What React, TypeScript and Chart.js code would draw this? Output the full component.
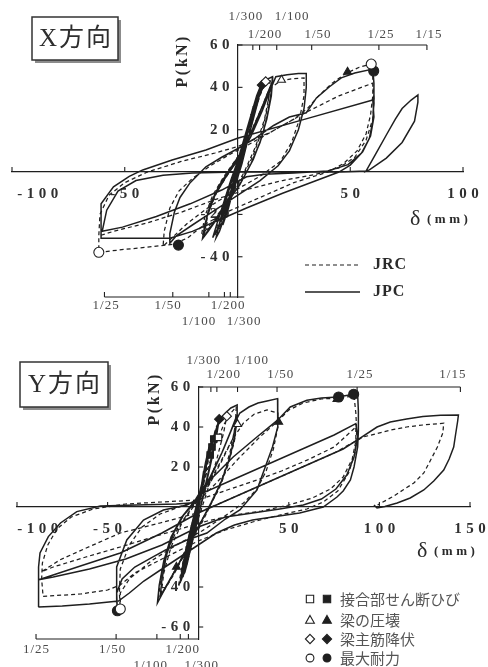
import React, { useEffect, useRef } from "react";
import { Chart, registerables } from "chart.js";

Chart.register(...registerables);

type Pt = [number, number];

// ================= X方向 =================
const X_JRC: Pt[] = [
  [0, 0], [2, 9], [4, 17], [2.5, 9], [0, 1], [-2, -7], [-4, -14], [-2.5, -7], [0, 1],
  [2.5, 11], [5, 21], [7.5, 31], [9.5, 38], [7.5, 28], [4, 13], [0, -1], [-4, -14], [-7, -23], [-10, -30], [-8, -21], [-4, -8], [0, 4],
  [3, 13], [6, 25], [8.5, 35], [6, 23], [2.5, 8], [-1.5, -7], [-5, -18], [-8, -27], [-6, -18], [-2.5, -5], [1, 6],
  [4, 17], [8, 30], [11, 39], [13, 43], [14.5, 44], [14, 36], [12, 25], [8, 12], [3, 0], [-3, -11], [-9, -21], [-13, -27], [-16, -30],
  [-14.5, -21], [-11, -11], [-6, -2], [0, 7], [6, 19], [11, 31], [14, 39],
  [13.5, 31], [11, 20], [7, 8], [2, -3], [-4, -13], [-10, -22], [-14.5, -28], [-13, -19], [-9, -9], [-3, 1], [3, 11], [9, 25], [15, 40], [19, 43], [24, 44], [29.5, 44.5],
  [29.5, 36], [27.5, 25], [24, 14], [19, 5], [10, -2], [0, -8], [-12, -16], [-22, -24], [-29, -31], [-33, -35],
  [-32.5, -28], [-30, -17], [-26, -9], [-20, -3], [-12, 3], [-4, 8], [5, 13], [15, 19], [25, 25], [31, 30], [36, 36], [42, 42], [48, 46.5], [54, 49.5], [59.3, 51],
  [60, 45], [60, 36], [59, 27], [57, 18], [53, 10], [47, 4], [40, 0], [25, -5], [10, -12], [-5, -19], [-15, -25], [-22, -31], [-28, -34], [-40, -35.5], [-50, -36.5], [-61.5, -37.9],
  [-61.5, -30], [-61, -20], [-57, -11], [-50, -5], [-40, 0], [-25, 5], [-10, 9], [0, 12], [15, 19], [30, 28], [45, 36], [60, 42],
  [60.5, 34], [60, 25], [57, 15], [52, 7], [45, 2], [35, -1], [20, -4], [5, -8], [-10, -13], [-25, -19], [-40, -24], [-55, -28], [-61, -30],
];
const X_JPC: Pt[] = [
  [0, 0], [1.5, 7], [3, 14], [2, 8], [0, 1], [-1.5, -6], [-3, -12], [-2, -7], [0, -1],
  [2, 9], [4, 18], [6, 27], [4.5, 19], [2, 7], [-1, -4], [-3.5, -13], [-6, -22], [-4.5, -15], [-2, -5], [1, 5],
  [3, 14], [5, 23], [7, 31], [4.5, 19], [1.5, 5], [-1.5, -7], [-4, -17], [-6.5, -25], [-4.5, -16], [-1.5, -3], [1.5, 8],
  [3.5, 15], [6, 25], [8.5, 35], [10.5, 41], [9, 33], [6, 21], [3, 9], [0, -1], [-3, -10], [-6, -19], [-9, -27], [-11, -31], [-9, -24], [-6, -14], [-3, -4], [0, 5],
  [3, 16], [6, 27], [8.5, 36], [10, 40], [8, 30], [5, 17], [2, 4], [-1.5, -8], [-5, -19], [-8, -28], [-9.5, -31], [-7.5, -22], [-4.5, -11], [-1, 1],
  [3, 14], [6, 24], [9, 34], [12, 42], [13.5, 44], [15.5, 45],
  [15, 38], [13.5, 28], [11, 17], [7, 6], [2, -4], [-4, -14], [-9, -22], [-13, -28], [-15.5, -31.5], [-14.5, -25], [-12, -15], [-8, -6], [-3, 2], [2, 10], [7, 21], [11, 31], [14, 39], [15.5, 43],
  [15, 36], [13, 25], [10, 14], [6, 4], [1, -6], [-5, -15], [-10, -23], [-14, -29], [-15, -30], [-13.5, -21], [-10, -11], [-5, -2], [1, 7], [6, 17], [11, 29], [15, 40], [17, 45], [22, 46], [27, 46.5], [30.5, 46.5],
  [30.5, 40], [29.5, 30], [27, 20], [23, 10], [18, 3], [10, -4], [0, -11], [-10, -18], [-20, -25], [-27, -30], [-30, -33.6],
  [-30, -29], [-28, -19], [-25.5, -12], [-21, -5], [-14, 2.5], [-7, 7], [0, 11], [8, 16], [16, 22], [23, 26], [30.5, 28], [35, 35], [40.8, 40.3], [46, 44.5], [52, 46.8], [60, 48.6],
  [60.5, 42], [60.5, 33], [60, 24], [58.5, 16], [55.5, 9.6], [50, 3.3], [45, 0], [35, -4], [20, -10], [4, -17], [-9, -23], [-20, -28], [-30, -31.3], [-45, -31.3], [-60.5, -31.3],
  [-60.5, -24], [-60.5, -15], [-55, -7], [-48, -2], [-42, 1], [-29, 5.7], [-14, 10.4], [0, 16], [30, 25], [60, 34],
  [60.5, 26], [59, 17], [55, 9], [49, 3.5], [40, 0.5], [25, -0.5], [12, -1], [4, -2.2], [-7, -8.5], [-21, -15], [-36, -21], [-51, -26], [-60, -28],
  [-58, -18], [-53, -9], [-45, -4], [-33, -1.5], [-20, -0.5], [0, 0], [25, 0], [45, 0], [57, 0.5],
  [61, 8], [66, 17.5], [70, 25], [73, 30], [77, 34], [80, 36.4],
  [80, 33], [78.5, 24], [73, 14], [66, 6.6], [58.5, 1], [56, 0],
];
const X_OPEN_DIAMOND: Pt[] = [[12.5, 42.8]];
const X_FILLED_DIAMOND: Pt[] = [[10.8, 41.1]];
const X_OPEN_TRIANGLE: Pt[] = [[19.5, 43.5]];
const X_FILLED_TRIANGLE: Pt[] = [[48.8, 47.3]];
const X_OPEN_CIRCLE: Pt[] = [[59.3, 51], [-61.5, -37.9]];
const X_FILLED_CIRCLE: Pt[] = [[60.4, 47.7], [-26.2, -34.5]];

const X_AXIS_X_TICKS = [-100, -50, 50, 100];
const X_AXIS_Y_TICKS = [60, 40, 20, -20, -40];
const X_DRIFT_TOP_LABELS = ["1/300", "1/200", "1/100", "1/50", "1/25", "1/15"];
const X_DRIFT_TOP_TICKS = [6.8, 9.8, 17.4, 32.9, 62.7, 84];
const X_DRIFT_TOP_LABEL_AT = [3.5, 12, 24, 35.5, 63.4, 84.7];
const X_DRIFT_TOP_ROW = [0, 1, 0, 1, 1, 1];
const X_DRIFT_BOT_LABELS = ["1/25", "1/50", "1/100", "1/200", "1/300"];
const X_DRIFT_BOT_TICKS = [-59, -28.7, -12.7, -5.8, -3.2];
const X_DRIFT_BOT_LABEL_AT = [-58.5, -31, -17.3, -4.4, 2.7];
const X_DRIFT_BOT_ROW = [0, 0, 1, 0, 1];

// ================= Y方向 =================
const Y_JRC: Pt[] = [
  [0, 0], [2, 11], [4, 21], [2.5, 12], [0, 1], [-2, -10], [-4, -19], [-2.5, -10], [0, 0],
  [2.5, 13], [5, 25], [7, 32], [5, 22], [2, 7], [-2, -10], [-5, -24], [-8, -34], [-6, -24], [-3, -10], [0, 2],
  [3, 15], [6, 28], [8.5, 36], [6, 25], [2.5, 9], [-1.5, -8], [-5, -23], [-8.5, -35], [-6.5, -25], [-3, -11], [0.5, 3],
  [3.5, 17], [7, 31], [10, 40], [13, 45], [15.8, 45.4], [14, 37], [10, 23], [5, 8], [0, -6], [-5, -22], [-9, -35], [-11, -40],
  [-9, -30], [-5.5, -16], [-1, 0], [4, 15], [9, 30], [14, 41], [18, 47], [21, 50],
  [20.5, 41], [18, 29], [14, 16], [9, 5], [2, -8], [-6, -21], [-13, -33], [-19, -42], [-22, -46],
  [-20.5, -35], [-17, -22], [-11, -10], [-4, -1], [4, 9], [12, 22], [19, 34], [21, 42],
  [20, 33], [16.5, 21], [11.5, 9], [5, -2], [-3, -14], [-10, -27], [-16, -37], [-20.5, -44], [-19, -33], [-15, -20], [-9, -8], [-2, 1], [6, 11], [13, 23], [19, 34], [25, 42], [31, 46.5], [38, 48.5], [44, 47],
  [44, 40], [41.5, 29], [37.5, 18], [32.5, 9], [25, 2], [14, -5], [2, -12], [-12, -19], [-26, -27], [-38, -36], [-43, -43], [-43, -51],
  [-43.5, -43], [-43, -31], [-38, -19], [-31, -10], [-21, -3.5], [-9, 0.5], [0, 3], [10, 12], [22, 24], [34, 35], [44, 43], [50, 48.5], [58, 52], [68, 54], [78, 54.5], [86, 55.5],
  [87, 47], [87.5, 38], [86.5, 27], [83, 17], [77, 8], [69, 2.5], [60, -1], [45, -4], [30, -7.5], [15, -11.5], [0, -17], [-20, -26], [-35, -33], [-43, -39], [-50, -41.5], [-65, -43.5], [-85.6, -44.7],
  [-86.4, -36], [-86, -28], [-83, -19], [-78, -11], [-70, -5], [-58, -1], [-40, 1.5], [-20, 2.5], [0, 3.5], [16, 8.5], [32.4, 13.5], [46, 18], [60, 23.4], [75, 30], [87, 40],
  [87, 33], [85, 24], [80, 15], [73, 9], [63, 4.5], [50, 1], [35, -2], [20, -4], [5, -7], [-10, -11], [-25, -15], [-43, -20], [-62, -25], [-80, -30], [-86.4, -32.3],
  [-76.2, -26.4], [-61.5, -20.4], [-43, -13], [-21, -8], [-0.7, -3], [15, 3], [35, 11], [55, 19], [75, 27], [91, 35],
  [106, 38.4], [115, 40], [124, 41], [135.5, 41.9],
  [135, 37], [132, 30], [128, 23], [124.5, 17], [119, 12], [113, 8.5], [108, 5.5], [104, 3.5], [99, 1],
];
const Y_JPC: Pt[] = [
  [0, 0], [1.5, 9], [3, 18], [2, 11], [0, 2], [-1.5, -8], [-3, -16], [-2, -9], [0, -1],
  [2, 12], [4, 22], [6, 30], [4.5, 21], [2, 8], [-1, -6], [-3.5, -18], [-6, -28], [-7.5, -33], [-5.5, -23], [-2.5, -9], [0, 2],
  [2.5, 14], [5, 25], [7, 32], [5, 23], [2, 10], [-1, -5], [-4, -20], [-7, -31], [-8.5, -35], [-6.5, -25], [-3, -11], [0, 1],
  [3, 16], [6, 28], [8.3, 33.4], [10, 39], [11.6, 43.9], [10, 35], [7, 22], [3, 6], [-1, -8], [-5, -22], [-8, -32], [-10, -38],
  [-8.5, -29], [-5.5, -16], [-2, -3], [1, 8], [5, 23], [8.5, 35], [11, 42], [9.5, 34], [6.5, 21], [3, 7], [-1, -9], [-5, -24], [-8.5, -34], [-9.5, -37], [-7.5, -27], [-4.5, -14], [-1, 0],
  [2, 9], [5, 23], [9, 36], [12, 44], [15, 47], [18, 49.5], [21.5, 51],
  [21.5, 44], [20, 34], [16.5, 22], [12, 11], [6, 0], [-1, -12], [-8, -24], [-14, -34], [-19, -42], [-22.5, -48],
  [-21.5, -39], [-19, -27], [-15, -15], [-9, -5], [-2, 3], [6, 14], [13, 27], [18, 38], [21, 45],
  [20.5, 37], [17.5, 25], [13, 13], [7, 2], [0, -10], [-7, -22], [-13, -32], [-18, -40], [-21, -45], [-20, -36], [-17.5, -24], [-13.5, -13], [-8, -4], [-1, 3], [7, 15], [14, 29], [19, 40], [23, 47], [28, 50], [33, 52], [38, 53], [43.8, 54.2],
  [44, 47], [43.8, 40], [41, 30], [37, 20], [32.4, 8.5], [23, -1.5], [15, -6], [4.8, -13], [-6.2, -16.5], [-16, -20.5], [-24.7, -24.8], [-35, -30], [-42, -36], [-45, -43], [-44.6, -51.9],
  [-45, -46], [-45, -30], [-39.4, -16.5], [-30.2, -6.5], [-19.2, -1.5], [-6.2, 1], [0, 4], [6.6, 13.5], [19.3, 25], [32.4, 35], [43.8, 43.4], [50.8, 50], [60, 53.4], [68, 54.5], [77, 55], [85.8, 56.4], [88, 56],
  [88.4, 48], [88.4, 38], [88, 30], [86, 20], [84, 13.5], [80, 8], [76.6, 5], [69, 0], [56, -3], [41, -5], [30, -6.5], [20, -9], [10, -13], [0, -19], [-10, -25], [-20, -31], [-30, -37], [-38, -43], [-44, -47], [-60, -48.5], [-75, -49.5], [-88.2, -50],
  [-88.2, -42], [-88, -30], [-87.3, -23], [-82.7, -14.8], [-76, -8], [-67, -2.3], [-54, 0.5], [-34, 1], [-12, 1.5], [-2.6, 2.1], [0, 6], [20, 14], [40, 22], [60, 30], [75, 36], [87, 41.7],
  [88, 35], [86, 25], [82, 16], [76, 9], [68, 4], [58, 1], [45, -1], [30, -3], [15, -5], [0, -10], [-20, -19], [-40, -26], [-60, -31], [-80, -35], [-88, -36.4],
  [-65, -29.5], [-43, -23], [-20, -13], [0, -3], [20, 5], [40, 13], [60, 21], [80, 29], [87.7, 33.4],
  [98.7, 40], [106, 42.5], [115, 44], [124, 45.3], [133.7, 45.9], [143.6, 46],
  [143.2, 43], [142, 36], [141, 30], [138.5, 24], [135.5, 18.5], [130, 13], [124.5, 8.5], [117, 4.5], [109.8, 2], [103, 0.3], [98.7, -0.5], [97, 1],
];
const Y_OPEN_SQUARE: Pt[] = [[11.2, 34.8]];
const Y_FILLED_SQUARE: Pt[] = [[8.6, 34], [7.6, 30], [6.6, 26]];
const Y_OPEN_DIAMOND: Pt[] = [[15.8, 45.4]];
const Y_FILLED_DIAMOND: Pt[] = [[11.6, 43.9]];
const Y_OPEN_TRIANGLE: Pt[] = [[21.7, 41.4]];
const Y_FILLED_TRIANGLE: Pt[] = [[44.4, 42.5], [76.6, 53.9], [-12, -30]];
const Y_OPEN_CIRCLE: Pt[] = [[-43, -51]];
const Y_FILLED_CIRCLE: Pt[] = [[77.5, 55], [85.8, 56.4], [-44.6, -51.9]];

const Y_AXIS_X_TICKS = [-100, -50, 50, 100, 150];
const Y_AXIS_Y_TICKS = [60, 40, 20, -40, -60];
const Y_DRIFT_TOP_LABELS = ["1/300", "1/200", "1/100", "1/50", "1/25", "1/15"];
const Y_DRIFT_TOP_TICKS = [7.0, 10.3, 21.7, 43.5, 87.7, 144.7];
const Y_DRIFT_TOP_LABEL_AT = [2.8, 13.8, 29.3, 45.3, 89, 140.3];
const Y_DRIFT_TOP_ROW = [0, 1, 0, 1, 1, 1];
const Y_DRIFT_BOT_LABELS = ["1/25", "1/50", "1/100", "1/200", "1/300"];
const Y_DRIFT_BOT_TICKS = [-89.5, -45.3, -22.8, -9.9, -5.4];
const Y_DRIFT_BOT_LABEL_AT = [-89.5, -47.5, -26.5, -8.8, 1.7];
const Y_DRIFT_BOT_ROW = [0, 0, 1, 0, 1];

const SERIES_LABELS = ["JRC", "JPC"];
const MARKER_LABELS = ["接合部せん断ひび", "梁の圧壊", "梁主筋降伏", "最大耐力"];
const MARKER_STYLES = ["rect", "triangle", "rectRot", "circle"];

// ================= drawing =================
const SERIF = '"Liberation Serif", "Times New Roman", serif';
const CJK = '"Noto Sans CJK JP", "Noto Sans CJK SC", sans-serif';
const INK = "#1f1f1f";

function text(ctx: any, s: string, x: number, y: number, font: string, color: string, align = "center", baseline = "middle", spacing = 0) {
  ctx.save();
  ctx.font = font;
  ctx.fillStyle = color;
  ctx.textAlign = align;
  ctx.textBaseline = baseline;
  ctx.letterSpacing = spacing + "px";
  let dx = 0;
  if (align === "center") dx = spacing / 2;
  if (align === "right") dx = spacing;
  ctx.fillText(s, x + dx, y);
  ctx.restore();
}

function mark(ctx: any, style: string, x: number, y: number, r: number, filled: boolean) {
  ctx.save();
  ctx.beginPath();
  if (style === "rect") {
    const s = r * 0.8;
    ctx.rect(x - s, y - s, 2 * s, 2 * s);
  } else if (style === "triangle") {
    ctx.moveTo(x, y - r);
    ctx.lineTo(x + r * 0.95, y + r * 0.7);
    ctx.lineTo(x - r * 0.95, y + r * 0.7);
    ctx.closePath();
  } else if (style === "rectRot") {
    ctx.moveTo(x, y - r);
    ctx.lineTo(x + r, y);
    ctx.lineTo(x, y + r);
    ctx.lineTo(x - r, y);
    ctx.closePath();
  } else {
    ctx.arc(x, y, r * 0.85, 0, Math.PI * 2);
  }
  ctx.fillStyle = filled ? INK : "#fff";
  ctx.fill();
  ctx.strokeStyle = INK;
  ctx.lineWidth = 1.1;
  ctx.stroke();
  ctx.restore();
}

function drawDecor(chart: any, p: any) {
  const ctx = chart.ctx;
  const xs = chart.scales.x;
  const ys = chart.scales.y;
  const X = (v: number) => xs.getPixelForValue(v);
  const Y = (v: number) => ys.getPixelForValue(v);
  const x0 = X(0);
  const y0 = Y(0);
  ctx.save();
  ctx.strokeStyle = INK;
  ctx.lineWidth = 1.1;
  const tickFont = "bold 15px " + SERIF;
  p.xTicks.forEach((v: number) => {
    ctx.beginPath();
    ctx.moveTo(X(v), y0);
    ctx.lineTo(X(v), y0 - 5);
    ctx.stroke();
    const s = String(v);
    ctx.font = tickFont;
    ctx.letterSpacing = "4.5px";
    const w = ctx.measureText(s).width;
    ctx.letterSpacing = "0px";
    const cx = Math.max(X(v), 15 + w / 2);
    text(ctx, s, cx, y0 + 22, tickFont, "#303030", "center", "middle", 4.5);
  });
  p.yTicks.forEach((v: number) => {
    ctx.beginPath();
    ctx.moveTo(x0, Y(v));
    ctx.lineTo(x0 + 5, Y(v));
    ctx.stroke();
    text(ctx, String(v), x0 - 8, Y(v), tickFont, "#303030", "right", "middle", 4.5);
  });
  const yt = Y(p.yMax);
  const topEnd = p.driftTop.ticks[p.driftTop.ticks.length - 1];
  ctx.beginPath();
  ctx.moveTo(x0, yt);
  ctx.lineTo(X(topEnd), yt);
  ctx.stroke();
  const dFont = "13px " + SERIF;
  p.driftTop.ticks.forEach((t: number, i: number) => {
    ctx.beginPath();
    ctx.moveTo(X(t), yt);
    ctx.lineTo(X(t), yt + 5);
    ctx.stroke();
    text(ctx, p.driftTop.labels[i], X(p.driftTop.at[i]), yt + p.topRowDy[p.driftTop.row[i]], dFont, "#4a4a4a", "center", "middle", 1);
  });
  const yb = Y(p.yMin);
  ctx.beginPath();
  ctx.moveTo(X(p.driftBot.ticks[0]), yb);
  ctx.lineTo(X(p.botLineEnd), yb);
  ctx.stroke();
  p.driftBot.ticks.forEach((t: number, i: number) => {
    ctx.beginPath();
    ctx.moveTo(X(t), yb);
    ctx.lineTo(X(t), yb - 5);
    ctx.stroke();
    text(ctx, p.driftBot.labels[i], X(p.driftBot.at[i]), yb + p.botRowDy[p.driftBot.row[i]], dFont, "#4a4a4a", "center", "middle", 1);
  });
  ctx.restore();

  ctx.save();
  ctx.translate(p.pTitle.x, p.pTitle.y);
  ctx.rotate(-Math.PI / 2);
  text(ctx, "P(kN)", 0, 0, "bold 16px " + SERIF, "#2a2a2a", "center", "middle", 2.5);
  ctx.restore();
  text(ctx, "δ", p.dTitle.x, p.dTitle.y, "22px " + SERIF, "#2a2a2a", "left", "alphabetic", 0);
  text(ctx, "(mm)", p.dTitle.x + 17, p.dTitle.y - 2, "bold 13px " + SERIF, "#2a2a2a", "left", "alphabetic", 3.5);

  const b = p.box;
  ctx.save();
  ctx.fillStyle = "#8c8c8c";
  ctx.fillRect(b.x + 3, b.y + 3, b.w, b.h);
  ctx.fillStyle = "#fff";
  ctx.fillRect(b.x, b.y, b.w, b.h);
  ctx.strokeStyle = "#333";
  ctx.lineWidth = 1.5;
  ctx.strokeRect(b.x, b.y, b.w, b.h);
  ctx.restore();
  text(ctx, p.title, b.x + b.w / 2, b.y + b.h / 2 + 1, "25px " + SERIF + ", " + CJK, "#2e2e2e", "center", "middle", 2);
}

function drawLegend(chart: any, p: any) {
  const ctx = chart.ctx;
  const L = p.legendPos;
  if (p.legend === "lines") {
    ctx.save();
    ctx.strokeStyle = INK;
    ctx.lineWidth = 1.2;
    ctx.setLineDash([4, 3]);
    ctx.beginPath();
    ctx.moveTo(L.x, L.y);
    ctx.lineTo(L.x + 55, L.y);
    ctx.stroke();
    ctx.setLineDash([]);
    ctx.lineWidth = 1.4;
    ctx.beginPath();
    ctx.moveTo(L.x, L.y + 27);
    ctx.lineTo(L.x + 55, L.y + 27);
    ctx.stroke();
    ctx.restore();
    text(ctx, SERIES_LABELS[0], L.x + 68, L.y, "bold 16px " + SERIF, "#2a2a2a", "left", "middle", 1);
    text(ctx, SERIES_LABELS[1], L.x + 68, L.y + 27, "bold 16px " + SERIF, "#2a2a2a", "left", "middle", 1);
  } else {
    MARKER_LABELS.forEach((s, i) => {
      const y = L.y + L.dy[i];
      mark(ctx, MARKER_STYLES[i], L.x, y, 4.6, false);
      mark(ctx, MARKER_STYLES[i], L.x + 17, y, 4.6, true);
      text(ctx, s, L.x + 30, y, "15px " + CJK, "#555", "left", "middle", 0);
    });
  }
}

const toXY = (a: Pt[]) => a.map(([x, y]) => ({ x, y }));

function buildChart(canvas: HTMLCanvasElement, p: any) {
  const markerDs = (data: Pt[], style: string, filled: boolean, r = 4.6) => ({
    data: toXY(data),
    showLine: false,
    pointStyle: style,
    pointRadius: r,
    pointHoverRadius: r,
    pointBackgroundColor: filled ? INK : "#fff",
    pointBorderColor: INK,
    pointBorderWidth: 1.1,
  });
  const lineDs = (data: Pt[], dashed: boolean) => ({
    data: toXY(data),
    showLine: true,
    borderColor: INK,
    borderWidth: dashed ? 1.25 : 1.5,
    borderDash: dashed ? [4, 3] : [],
    pointRadius: 0,
    pointHoverRadius: 0,
    tension: 0,
    fill: false,
  });
  const datasets = [
    ...p.markers.map((m: any) => markerDs(m.data, m.style, m.filled, m.style === "circle" ? 5 : 4.6)),
    lineDs(p.jpc, false),
    lineDs(p.jrc, true),
  ];
  const axis = (min: number, max: number, pos: any) => ({
    type: "linear",
    min,
    max,
    position: pos,
    grid: { display: true, drawOnChartArea: false, drawTicks: false },
    border: { display: true, color: INK, width: 1.2 },
    ticks: { display: false },
  });
  const deco = {
    id: "deco" + p.name,
    beforeDraw(chart: any) {
      const c = chart.ctx;
      c.save();
      c.fillStyle = "#fff";
      c.fillRect(0, 0, chart.width, chart.height);
      c.restore();
    },
    beforeDatasetsDraw(chart: any) {
      drawDecor(chart, p);
    },
    afterDraw(chart: any) {
      drawLegend(chart, p);
    },
  };
  return new Chart(canvas, {
    type: "scatter",
    data: { datasets },
    options: {
      animation: false,
      responsive: false,
      maintainAspectRatio: false,
      events: [],
      layout: { padding: p.padding },
      plugins: { legend: { display: false }, tooltip: { enabled: false }, title: { display: false } },
      scales: {
        x: axis(p.xMin, p.xMax, { y: 0 }),
        y: axis(p.yMin, p.yMax, { x: 0 }),
      },
    } as any,
    plugins: [deco],
  } as any);
}

const PANEL_X = {
  name: "X",
  title: "X方向",
  xMin: -100, xMax: 100, yMin: -59, yMax: 60,
  padding: { left: 12, right: 25, top: 45, bottom: 36 },
  jrc: X_JRC, jpc: X_JPC,
  markers: [
    { data: X_OPEN_DIAMOND, style: "rectRot", filled: false },
    { data: X_FILLED_DIAMOND, style: "rectRot", filled: true },
    { data: X_OPEN_TRIANGLE, style: "triangle", filled: false },
    { data: X_FILLED_TRIANGLE, style: "triangle", filled: true },
    { data: X_OPEN_CIRCLE, style: "circle", filled: false },
    { data: X_FILLED_CIRCLE, style: "circle", filled: true },
  ],
  xTicks: X_AXIS_X_TICKS, yTicks: X_AXIS_Y_TICKS,
  driftTop: { ticks: X_DRIFT_TOP_TICKS, labels: X_DRIFT_TOP_LABELS, at: X_DRIFT_TOP_LABEL_AT, row: X_DRIFT_TOP_ROW },
  driftBot: { ticks: X_DRIFT_BOT_TICKS, labels: X_DRIFT_BOT_LABELS, at: X_DRIFT_BOT_LABEL_AT, row: X_DRIFT_BOT_ROW },
  botLineEnd: 3,
  topRowDy: [-28, -10],
  botRowDy: [9, 25],
  box: { x: 32, y: 17, w: 86, h: 43 },
  pTitle: { x: 183, y: 62 },
  dTitle: { x: 410, y: 225 },
  legend: "lines",
  legendPos: { x: 305, y: 265 },
};

const PANEL_Y = {
  name: "Y",
  title: "Y方向",
  xMin: -100, xMax: 150, yMin: -66, yMax: 60,
  padding: { left: 17, right: 18, top: 54, bottom: 28 },
  jrc: Y_JRC, jpc: Y_JPC,
  markers: [
    { data: Y_OPEN_SQUARE, style: "rect", filled: false },
    { data: Y_FILLED_SQUARE, style: "rect", filled: true },
    { data: Y_OPEN_DIAMOND, style: "rectRot", filled: false },
    { data: Y_FILLED_DIAMOND, style: "rectRot", filled: true },
    { data: Y_OPEN_TRIANGLE, style: "triangle", filled: false },
    { data: Y_FILLED_TRIANGLE, style: "triangle", filled: true },
    { data: Y_OPEN_CIRCLE, style: "circle", filled: false },
    { data: Y_FILLED_CIRCLE, style: "circle", filled: true },
  ],
  xTicks: Y_AXIS_X_TICKS, yTicks: Y_AXIS_Y_TICKS,
  driftTop: { ticks: Y_DRIFT_TOP_TICKS, labels: Y_DRIFT_TOP_LABELS, at: Y_DRIFT_TOP_LABEL_AT, row: Y_DRIFT_TOP_ROW },
  driftBot: { ticks: Y_DRIFT_BOT_TICKS, labels: Y_DRIFT_BOT_LABELS, at: Y_DRIFT_BOT_LABEL_AT, row: Y_DRIFT_BOT_ROW },
  botLineEnd: 0,
  topRowDy: [-26, -12],
  botRowDy: [11, 27],
  box: { x: 20, y: 29, w: 88, h: 45 },
  pTitle: { x: 155, y: 67 },
  dTitle: { x: 417, y: 224 },
  legend: "markers",
  legendPos: { x: 310, y: 266, dy: [0, 21, 40, 59] },
};

export default function App() {
  const topRef = useRef<HTMLCanvasElement>(null);
  const botRef = useRef<HTMLCanvasElement>(null);
  useEffect(() => {
    const a = buildChart(topRef.current as HTMLCanvasElement, PANEL_X);
    const b = buildChart(botRef.current as HTMLCanvasElement, PANEL_Y);
    let alive = true;
    const fonts = (document as any).fonts;
    if (fonts && fonts.ready) {
      fonts.ready.then(() => {
        if (alive) {
          a.draw();
          b.draw();
        }
      });
    }
    return () => {
      alive = false;
      a.destroy();
      b.destroy();
    };
  }, []);
  return (
    <div style={{ position: "absolute", left: 0, top: 0, width: 488, height: 667, background: "#fff", overflow: "hidden" }}>
      <canvas ref={topRef} width={488} height={333} style={{ position: "absolute", left: 0, top: 0, width: 488, height: 333 }} />
      <canvas ref={botRef} width={488} height={334} style={{ position: "absolute", left: 0, top: 333, width: 488, height: 334 }} />
    </div>
  );
}
